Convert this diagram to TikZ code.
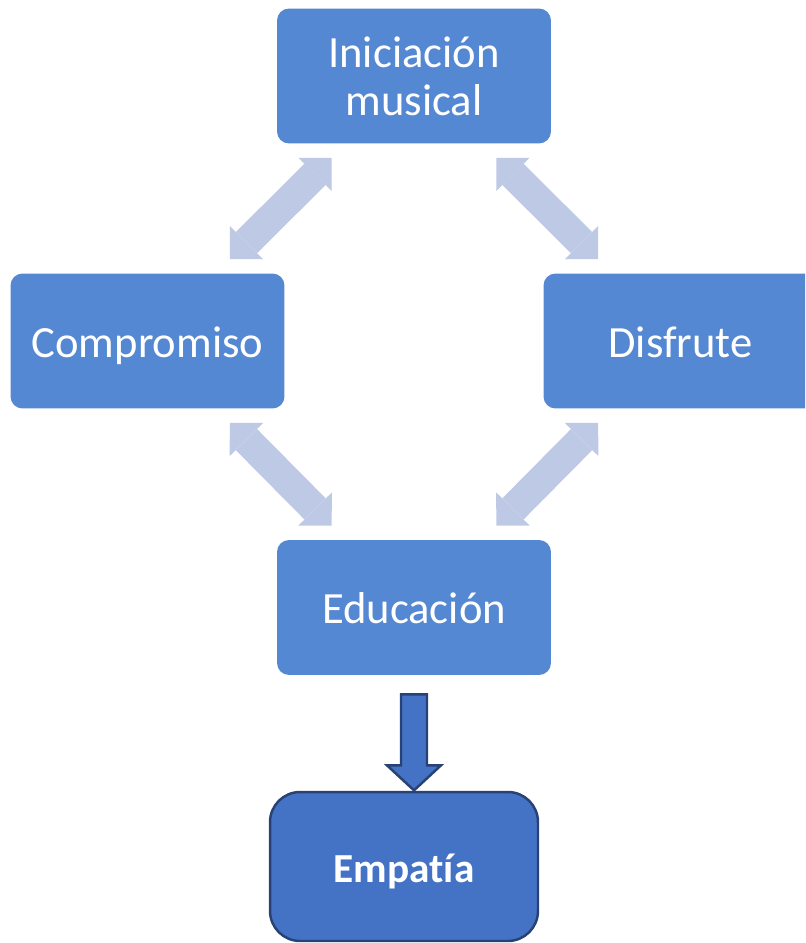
\documentclass[tikz,border=0pt]{standalone}
\usepackage{fontspec}
\setmainfont[Ligatures=NoCommon]{Carlito}
\usetikzlibrary{arrows.meta}
\definecolor{boxblue}{RGB}{85,136,210}
\definecolor{linkblue}{RGB}{189,201,229}
\definecolor{goalblue}{RGB}{68,114,196}
\definecolor{goalline}{RGB}{40,66,118}

\begin{document}
\begin{tikzpicture}[x=0.02cm,y=0.02cm,
		stage/.style={fill=boxblue, rounded corners=0.24cm, minimum width=5.48cm,
			minimum height=2.7cm, inner sep=0pt, text=white, align=center,
			font=\fontsize{25.4}{27.3}\selectfont},
		oneline/.style={text height=18.5pt, text depth=0pt},
		goal/.style={fill=goalblue, draw=goalline, line width=1.4pt, rounded corners=0.6cm,
			minimum width=5.36cm, minimum height=2.98cm, inner sep=0pt, text=white,
			font=\fontsize{23.5}{28}\selectfont\bfseries},
		link/.style={draw=linkblue, line width=0.6cm,
			{Triangle[width=0.94cm,length=0.47cm,line width=0pt]}-{Triangle[width=0.94cm,length=0.47cm,line width=0pt]}},
		pointer/.style={fill=goalblue, draw=goalline, line width=1.4pt, line join=miter}]
	\useasboundingbox (0,0) rectangle (805,-943);
	\clip (0,0) rectangle (805,-943);
	% boxes
	\node[stage] (ini) at (414,-76) {Iniciación\\musical};
	\node[stage, oneline] (comp) at (147.5,-341) {Compromiso};
	\node[stage, oneline] (dis) at (680.5,-341) {Disfrute};
	\node[stage, oneline] (edu) at (414,-607.5) {Educación};
	\node[goal, oneline] (emp) at (404,-866.5) {Empatía};
	% double arrows
	\draw[link] ([shift={(55,-14)}]ini.south west) -- ([shift={(-55,14)}]comp.north east);
	\draw[link] ([shift={(-55,-14)}]ini.south east) -- ([shift={(55,14)}]dis.north west);
	\draw[link] ([shift={(-55,-14)}]comp.south east) -- ([shift={(55,14)}]edu.north west);
	\draw[link] ([shift={(55,-14)}]dis.south west) -- ([shift={(-55,14)}]edu.north east);
	% arrow down
	\draw[pointer] ([shift={(-13,-19)}]edu.south) -- ([shift={(13,-19)}]edu.south)
		-- ([shift={(13,-90)}]edu.south) -- ([shift={(27,-90)}]edu.south)
		-- ([shift={(0,-115)}]edu.south) -- ([shift={(-27,-90)}]edu.south)
		-- ([shift={(-13,-90)}]edu.south) -- cycle;
\end{tikzpicture}
\end{document}
